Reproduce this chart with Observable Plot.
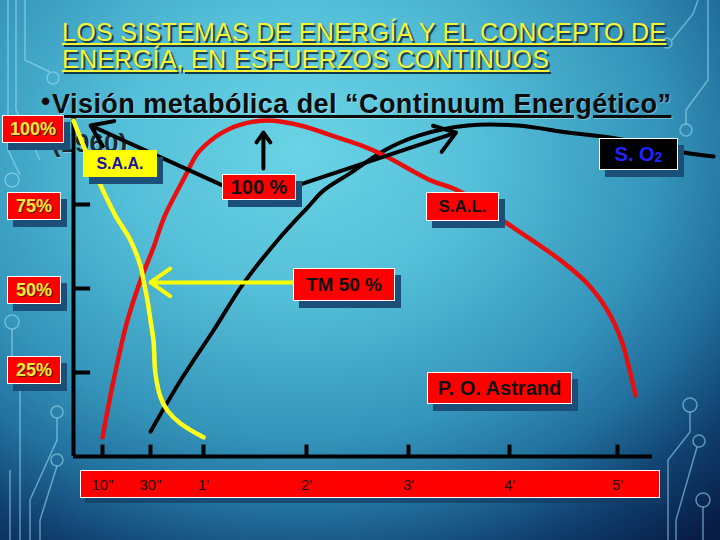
<!DOCTYPE html>
<html><head><meta charset="utf-8">
<script src="https://cdn.jsdelivr.net/npm/d3@7"></script>
<script src="https://cdn.jsdelivr.net/npm/@observablehq/plot@0.6"></script>
<style>
body{margin:0;}
#slide{position:relative;width:720px;height:540px;overflow:hidden;
 background:radial-gradient(ellipse 600px 480px at 300px 150px,#6ad3e5 0%,#54bfd8 30%,#3494ba 60%,#22709d 75%,#103f6e 90%,#071b44 105%);
 font-family:"Liberation Sans",Arial,sans-serif;}
#deco{position:absolute;left:0;top:0;}
#title{position:absolute;left:62px;top:19px;font-size:25px;line-height:27px;letter-spacing:0.3px;color:#f4f43a;
 text-decoration:underline;text-decoration-thickness:2px;text-underline-offset:2px;
 text-shadow:2px 2px 1px #143a48;white-space:nowrap;}
#dot{position:absolute;left:41px;top:86px;font-size:26px;font-weight:bold;color:#0c0c0c;line-height:30px;}
#bullet{position:absolute;left:52px;top:89px;font-size:27px;line-height:30px;letter-spacing:0.45px;font-weight:bold;color:#0c0c0c;
 text-decoration:underline;text-decoration-thickness:3px;text-underline-offset:2px;white-space:nowrap;
 text-shadow:1px 1px 1px rgba(255,255,255,0.35);}
#year{position:absolute;left:52px;top:128px;font-size:26px;line-height:30px;font-weight:bold;color:#1b2b33;
 text-shadow:1px 1px 0 rgba(255,255,255,0.35);}
#band{position:absolute;left:80px;top:470px;width:578px;height:26px;background:#ff0000;border:1px solid #fff;
 box-shadow:5px 5px 0 rgba(20,60,100,0.7);}
#chart{position:absolute;left:0;top:0;}
.box{position:absolute;background:#ff0000;border:1px solid #fff;box-shadow:6px 7px 0 #1b4f78;
 display:flex;align-items:center;justify-content:center;font-weight:bold;color:#111;white-space:nowrap;}
.ylab{color:#ffe83a;font-size:18px;text-shadow:1px 1px 0 #5a1a00;}
</style></head><body>
<div id="slide">
 <svg id="deco" width="720" height="540" fill="none" stroke="rgba(160,225,245,0.55)" stroke-width="1.5">
  <path d="M8,0V150L20,175"/><path d="M16,0V110L40,160"/><path d="M25,0V60L50,72"/>
  <circle cx="53" cy="78" r="6"/><circle cx="12" cy="180" r="7"/><circle cx="12" cy="322" r="7"/>
  <path d="M12,329V360"/><path d="M57,418V440L30,500V540"/><circle cx="57" cy="412" r="6"/>
  <path d="M57,466L40,520V540"/><circle cx="57" cy="460" r="6"/><path d="M10,470V540"/><path d="M20,380V540"/>
  <path d="M698,0L693,14L672,40"/><circle cx="667" cy="43" r="5"/>
  <path d="M708,0V80L686,110V124"/><circle cx="686" cy="130" r="6"/>
  <path d="M690,412V432L668,460V540"/><circle cx="690" cy="405" r="7"/>
  <path d="M697,447L676,520V540"/><circle cx="699" cy="441" r="6"/>
  <path d="M703,507V540"/><circle cx="703" cy="500" r="7"/>
 </svg>
 <div id="title">LOS SISTEMAS DE ENERGÍA Y EL CONCEPTO DE<br>ENERGÍA, EN ESFUERZOS CONTINUOS</div>
 <div id="dot">•</div>
 <div id="bullet">Visión metabólica del “Continuum Energético”</div>
 <div id="year">(1960)</div>
 <div id="band"></div>
 <div id="chart"></div>
 <div class="box" style="left:83px;top:150px;width:74px;height:27px;background:#ffff00;border:none;color:#1414a0;font-size:16px;">S.A.A.</div>
 <div class="box" style="left:222px;top:174px;width:72px;height:24px;font-size:20px;">100 %</div>
 <div class="box" style="left:426px;top:192px;width:71px;height:27px;font-size:17px;">S.A.L.</div>
 <div class="box" style="left:293px;top:268px;width:100px;height:31px;font-size:19px;">TM 50 %</div>
 <div class="box" style="left:427px;top:372px;width:143px;height:30px;font-size:20px;">P. O. Astrand</div>
 <div class="box" style="left:599px;top:138px;width:77px;height:30px;background:#000;color:#2323ff;font-size:20px;">S. O<span style="font-size:14px;position:relative;top:3px;">2</span></div>
</div>
<script>
// ---- data ----
const timeTicks = [10, 30, 60, 120, 180, 240, 300];            // seconds
const timeTickLabels = ['10"', '30"', "1'", "2'", "3'", "4'", "5'"];
const pctTicks = [25, 50, 75, 100];
const pctTickLabels = ["25%", "50%", "75%", "100%"];

// S.A.A. (yellow)
const saaTime = [0, 4.1, 8.6, 15.4, 21.7, 25.8, 27.1, 28.75, 30, 31.7, 32.8, 35.7, 39.6, 47, 60];
const saaPct  = [100, 91.1, 82.1, 71.7, 64.3, 56.8, 52.4, 46.4, 40.5, 34.5, 24.7, 17.6, 13.7, 9.8, 5.7];
// S.A.L. (red)
const salTime = [10, 14.6, 20.4, 25.8, 31.7, 37.9, 49.8, 56.6, 64.1, 69.9, 79.8, 97.3, 116.5, 138.4, 152.1, 165.8, 193.5, 209.4, 238.8, 268.6, 283.2, 294.4, 302.3, 307.4, 310.3];
const salPct  = [5.7, 22.6, 40.5, 52.4, 62.2, 71.4, 83.6, 90.2, 94, 96.1, 98.5, 100, 98.5, 94.9, 92.6, 89.6, 82.1, 79.2, 69.3, 58.3, 51.5, 43.5, 34.5, 24.7, 18.2];
// S. O2 (black)
const so2Time = [30, 47, 65.8, 83.3, 103.1, 120.6, 130.1, 146.2, 165.8, 185.9, 215.3, 244.5, 272.5, 300, 337.7, 354.9];
const so2Pct  = [7.4, 22.6, 37.5, 51.5, 64.3, 74.1, 79.2, 84.5, 91.1, 95.5, 98.5, 98.5, 96.4, 94.6, 90.5, 89.3];

// annotation arrows (time s, percent)
const arrowX1 = [71.1, 94.9, 113, 112.4];
const arrowY1 = [80.7, 85.7, 80.4, 51.8];
const arrowX2 = [5.9, 94.9, 208.2, 30];
const arrowY2 = [98.5, 96.4, 96.4, 51.8];
const arrowColor = ["#000", "#000", "#000", "#ffff00"];

// ---- build ----
const toRows = (t, p) => t.map((x, i) => ({t: x, p: p[i]}));
const arrows = arrowX1.map((x, i) => ({x1: x, y1: arrowY1[i], x2: arrowX2[i], y2: arrowY2[i], c: arrowColor[i]}));
const xTicksRows = timeTicks.map((t, i) => ({t, label: timeTickLabels[i]}));

const chart = Plot.plot({
  width: 720, height: 540,
  marginTop: 120, marginBottom: 84, marginLeft: 73, marginRight: 68,
  style: {background: "transparent", overflow: "visible", fontFamily: "Liberation Sans, Arial, sans-serif"},
  x: {type: "linear", domain: [0, 10, 30, 60, 120, 180, 240, 300, 360], range: [73, 102, 150, 203, 306, 408, 509, 617, 722], axis: null},
  y: {domain: [0, 100], axis: null},
  marks: [
    Plot.ruleX([0], {y1: 0, y2: 101.5, stroke: "#000", strokeWidth: 4}),
    Plot.ruleY([0], {x1: 0, x2: 320, stroke: "#000", strokeWidth: 4}),
    Plot.ruleY(pctTicks.slice(0, 3), {x1: 0, x2: 5.9, stroke: "#000", strokeWidth: 4}),
    Plot.ruleX(timeTicks, {y1: 0, y2: 3.4, stroke: "#000", strokeWidth: 4}),
    Plot.text(xTicksRows, {x: "t", y: 0, dy: 29, text: "label", fill: "#2a0808", fontSize: 15}),
    Plot.line(toRows(so2Time, so2Pct), {x: "t", y: "p", stroke: "#000", strokeWidth: 4, curve: "catmull-rom"}),
    Plot.line(toRows(salTime, salPct), {x: "t", y: "p", stroke: "#e80f0f", strokeWidth: 4.5, curve: "catmull-rom"}),
    Plot.line(toRows(saaTime, saaPct), {x: "t", y: "p", stroke: "#ffff1a", strokeWidth: 4.5, curve: "catmull-rom"}),
    Plot.arrow(arrows, {x1: "x1", y1: "y1", x2: "x2", y2: "y2", stroke: "c", strokeWidth: 4, headLength: 9, headAngle: 70})
  ]
});
document.getElementById("chart").appendChild(chart);

// y tick label boxes placed via the y scale
const ys = chart.scale("y");
const slide = document.getElementById("slide");
pctTicks.forEach((v, i) => {
  const d = document.createElement("div");
  d.className = "box ylab";
  const w = v === 100 ? 60 : 52;
  d.style.left = (v === 100 ? 2 : 7) + "px";
  d.style.width = w + "px";
  d.style.height = "26px";
  d.style.top = (ys.apply(v) - 12 + (v === 100 ? 7 : 0) + (v === 25 ? -4 : 0)) + "px";
  d.textContent = pctTickLabels[i];
  slide.appendChild(d);
});
</script>
</body></html>
